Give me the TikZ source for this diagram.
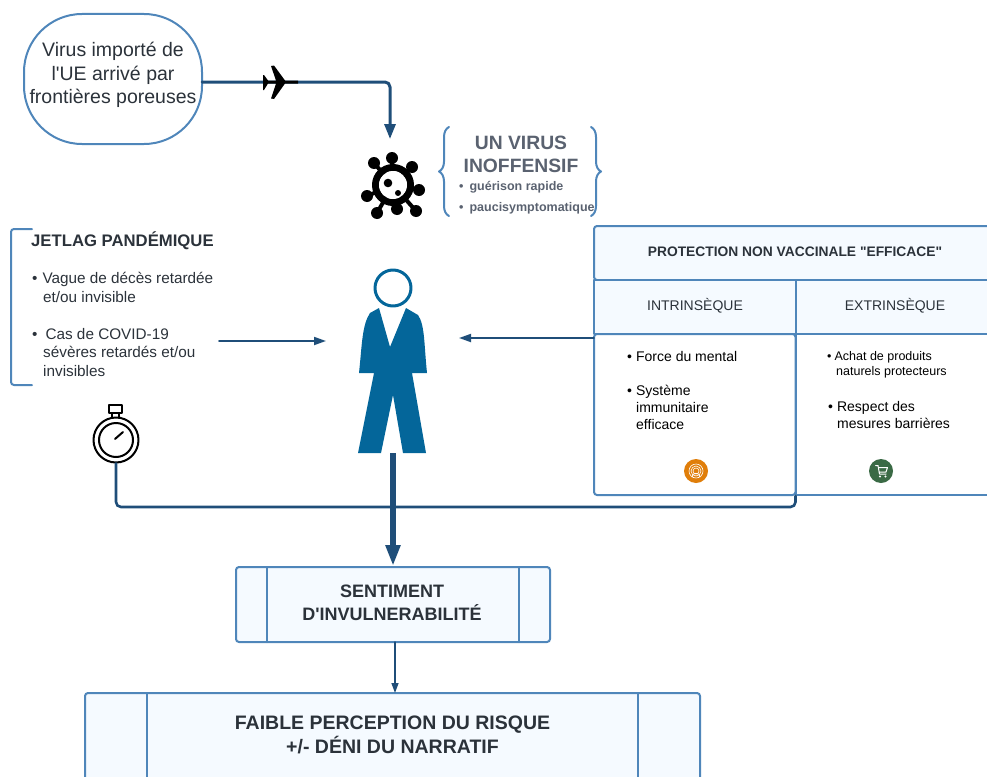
\documentclass[tikz,border=0pt]{standalone}
\usepackage{fontspec}
\setmainfont{Liberation Sans}[Ligatures=TeXOff]
\usepackage[usenames]{xcolor}
\usepackage{tikz}
\usetikzlibrary{arrows.meta}
\usetikzlibrary{decorations.pathreplacing}
\definecolor{boxline}{HTML}{4F86BA}
\definecolor{boxfill}{HTML}{F5FAFF}
\definecolor{connline}{HTML}{1F4E79}
\definecolor{personblue}{HTML}{04669A}
\definecolor{headgrey}{HTML}{5A6270}
\definecolor{darktext}{HTML}{2B323A}
\definecolor{iconorange}{HTML}{E07E0A}
\definecolor{icongreen}{HTML}{3A6A45}
\tikzset{
  framebox/.style={draw=boxline,line width=2pt,fill=boxfill,rounded corners=3pt,inner sep=0pt,outer sep=0pt},
  cell/.style={draw=boxline,line width=2pt,inner sep=0pt,outer sep=0pt},
  conn/.style={draw=connline,line width=1.8pt,-{Triangle[length=12pt,width=8pt]}},
  thickconn/.style={draw=connline,line width=3pt,rounded corners=5pt},
  bodytext/.style={anchor=base west,inner sep=0pt,font=\fontsize{15.3}{17}\selectfont,text=darktext},
  blacktext/.style={anchor=base west,inner sep=0pt,font=\fontsize{14}{17}\selectfont,text=black},
  smalltext/.style={anchor=base west,inner sep=0pt,font=\fontsize{12.5}{15}\selectfont,text=black},
  greytext/.style={anchor=base west,inner sep=0pt,font=\fontsize{12.5}{15}\selectfont\bfseries,text=headgrey},
  boxtitle/.style={inner sep=0pt,align=center,text=darktext}
}
\begin{document}
\begin{tikzpicture}[line cap=round,line join=round,x=1pt,y=-1pt]
\clip(0,0) rectangle (987,776);
% virus arriving
\node[draw=boxline,line width=2pt,rounded corners=58pt,minimum width=178pt,minimum height=130pt,inner sep=0pt,outer sep=0pt] (importbox) at (113,79) {};
\node[inner sep=0pt,align=center,font=\fontsize{19.5}{23.5}\selectfont,text=darktext] (importtext) at (113,75) {Virus importé de\\l'UE arrivé par\\frontières poreuses};
\coordinate (virustop) at (390,139);
\draw[thickconn,-{Triangle[length=15pt,width=11pt]}] ([yshift=-3pt]importbox.east) -| (virustop);
\fill[black] (298,80.5) -- (285,80.5) -- (274,65.5) -- (271,66) -- (276,80.5) -- (268,80.5) -- (264,75) -- (263,75) -- (263,90)
  -- (264,90) -- (268,83.5) -- (276,83.5) -- (271,98.5) -- (274,99) -- (285,83.5) -- (298,83.5) -- cycle;
% virus icon
\node[circle,draw=black,line width=7pt,minimum size=35pt,inner sep=0pt] (virus) at (393,185) {};
\foreach \bx/\by in {392/158,412/167,419/190,416/211,397/209,377/213,367/196,374/163}
  \draw[black,line width=4pt] (virus.center) -- (\bx,\by) node[circle,fill=black,minimum size=12pt,inner sep=0pt] {};
\fill[white] (virus.center) circle (14);
\fill[black] (388,183) circle (4.3);
\fill[black] (398,193) circle (3);
% harmless virus
\draw[boxline,line width=2pt,decorate,decoration={brace,amplitude=10pt,mirror}] (449,127) -- (449,216);
\draw[boxline,line width=2pt,decorate,decoration={brace,amplitude=10pt}] (591,127) -- (591,216);
\node[inner sep=0pt,align=center,text=headgrey,font=\fontsize{19.3}{23}\selectfont\bfseries] (virustitle) at (521,154) {UN VIRUS\\INOFFENSIF};
\node[greytext] (rapide) at (459,190) {•\hspace{6pt}guérison rapide};
\node[greytext] (pauci) at (459,211) {•\hspace{6pt}paucisymptomatique};
% jetlag
\draw[boxline,line width=2pt,rounded corners=3pt] (32,229) -- (11,229) -- (11,385) -- (32,385);
\node[anchor=base west,inner sep=0pt,font=\fontsize{16.7}{20}\selectfont\bfseries,text=darktext] (jetlag) at (31,246) {JETLAG PANDÉMIQUE};
\node[bodytext] (vague) at (32,283) {•\hspace{5pt}Vague de décès retardée};
\node[bodytext] (vaguetwo) at (43,302) {et/ou invisible};
\node[bodytext] (cas) at (32,339) {•\hspace{8pt}Cas de COVID-19};
\node[bodytext] (castwo) at (43,357) {sévères retardés et/ou};
\node[bodytext] (casthree) at (43,376) {invisibles};
\coordinate (jetlagout) at (219,341);
\coordinate (personleft) at (326,341);
\draw[conn] (jetlagout) -- (personleft);
% stopwatch
\node[circle,draw=black,line width=2pt,minimum size=45pt,inner sep=0pt] (watch) at (116,440) {};
\draw[black,line width=2pt] (watch.center) circle (17);
\draw[black,line width=2pt,fill=white] (109,404.5) rectangle (122,413);
\draw[black,line width=2pt] (112,413) -- (112,417);
\draw[black,line width=2pt] (119,413) -- (119,417);
\draw[black,line width=2pt] (115,439) -- (123,432);
% person
\fill[personblue] (379,308) -- (370,313) .. controls (362,325) and (362,345) .. (359,373) -- (374,373) -- (358,453) -- (381,453) -- (393,395)
  -- (403,453) -- (426,453) -- (412,373) -- (427,373) .. controls (424,345) and (425,325) .. (418,315) -- (406,308) -- (390,347) -- cycle;
\node[circle,draw=personblue,line width=3pt,fill=white,minimum size=36pt,inner sep=0pt] (head) at (393,288) {};
\coordinate (personfoot) at (393,453);
\coordinate (sentimenttop) at (393,566);
% protection table
\node[cell,fill=boxfill,rounded corners=3pt,minimum width=420pt,minimum height=54pt,anchor=north west] (protection) at (594,226) {};
\node[cell,fill=boxfill,minimum width=201.5pt,minimum height=54pt,anchor=north west] (intrinseque) at (594,280) {};
\node[cell,fill=boxfill,minimum width=218pt,minimum height=54pt,anchor=north west] (extrinseque) at (795.5,280) {};
\node[cell,fill=white,minimum width=218pt,minimum height=161pt,anchor=north west] (colright) at (795.5,334) {};
\node[cell,fill=white,rounded corners=3pt,minimum width=201.5pt,minimum height=161pt,anchor=north west] (colleft) at (594,334) {};
\node[boxtitle,font=\fontsize{13.8}{16}\selectfont\bfseries] (protectiontitle) at (795,252) {PROTECTION NON VACCINALE "EFFICACE"};
\node[boxtitle,font=\fontsize{14}{17}\selectfont] (intrinsequetitle) at (695,306) {INTRINSÈQUE};
\node[boxtitle,font=\fontsize{14}{17}\selectfont] (extrinsequetitle) at (895,306) {EXTRINSÈQUE};
\node[blacktext] (force) at (627,361) {•\hspace{4pt}Force du mental};
\node[blacktext] (systeme) at (627,395) {•\hspace{4pt}Système};
\node[blacktext] (immun) at (636,412) {immunitaire};
\node[blacktext] (efficace) at (636,429) {efficace};
\node[smalltext] (achat) at (827,360) {•\hspace{3pt}Achat de produits};
\node[smalltext] (naturels) at (836,375) {naturels protecteurs};
\node[blacktext] (respect) at (828,411) {•\hspace{4pt}Respect des};
\node[blacktext] (mesures) at (837,428) {mesures barrières};
% icons
\node[circle,fill=iconorange,minimum size=24pt,inner sep=0pt] (mindicon) at (696,471) {};
\foreach \r in {3,5,7}
  \draw[white,line width=.6pt] (mindicon.center) circle (\r);
\draw[white,line width=.8pt] (692,477) .. controls (692,472) and (700,472) .. (700,477);
\node[circle,fill=icongreen,minimum size=24pt,inner sep=0pt] (carticon) at (881,471) {};
\draw[white,line width=1pt] (875.5,465.5) -- (878,465.5) -- (879.5,474) -- (886,474);
\draw[white,line width=1pt] (878.5,467.5) -- (887.5,467.5) -- (886,472) -- (879.2,472);
\fill[white] (880,476.5) circle (1.1);
\fill[white] (885.5,476.5) circle (1.1);
% connectors to the lower boxes
\coordinate (tableleft) at (594,338);
\coordinate (personright) at (459,338);
\draw[conn] (tableleft) -- (personright);
\coordinate (colbottom) at (795.5,496);
\draw[thickconn,line width=2.6pt] (watch.south) |- (colbottom |- 0,507) -- (colbottom);
\draw[draw=connline,line width=5.5pt,line cap=butt,-{Triangle[length=21pt,width=14pt]}] (personfoot) -- (sentimenttop);
% lower boxes
\node[framebox,minimum width=314pt,minimum height=75pt] (sentiment) at (393,604.5) {};
\foreach \lx in {31,283}
  \draw[boxline,line width=2pt] ([xshift=\lx pt]sentiment.north west) -- ([xshift=\lx pt]sentiment.south west);
\node[boxtitle,font=\fontsize{18}{23}\selectfont\bfseries] (sentimenttitle) at (392,602.5) {SENTIMENT\\D'INVULNERABILITÉ};
\node[framebox,minimum width=615pt,minimum height=110pt,anchor=north] (faible) at (392.5,693) {};
\foreach \lx in {62,553}
  \draw[boxline,line width=2pt] ([xshift=\lx pt]faible.north west) -- ([xshift=\lx pt]faible.south west);
\node[boxtitle,font=\fontsize{19.5}{24}\selectfont\bfseries] (faibletitle) at (392.5,735) {FAIBLE PERCEPTION DU RISQUE\\+/- DÉNI DU NARRATIF};
\draw[conn,line width=1.4pt,-{Triangle[length=10pt,width=7pt]}] ([xshift=2pt]sentiment.south) -- ([xshift=2.5pt]faible.north);
\end{tikzpicture}
\end{document}
